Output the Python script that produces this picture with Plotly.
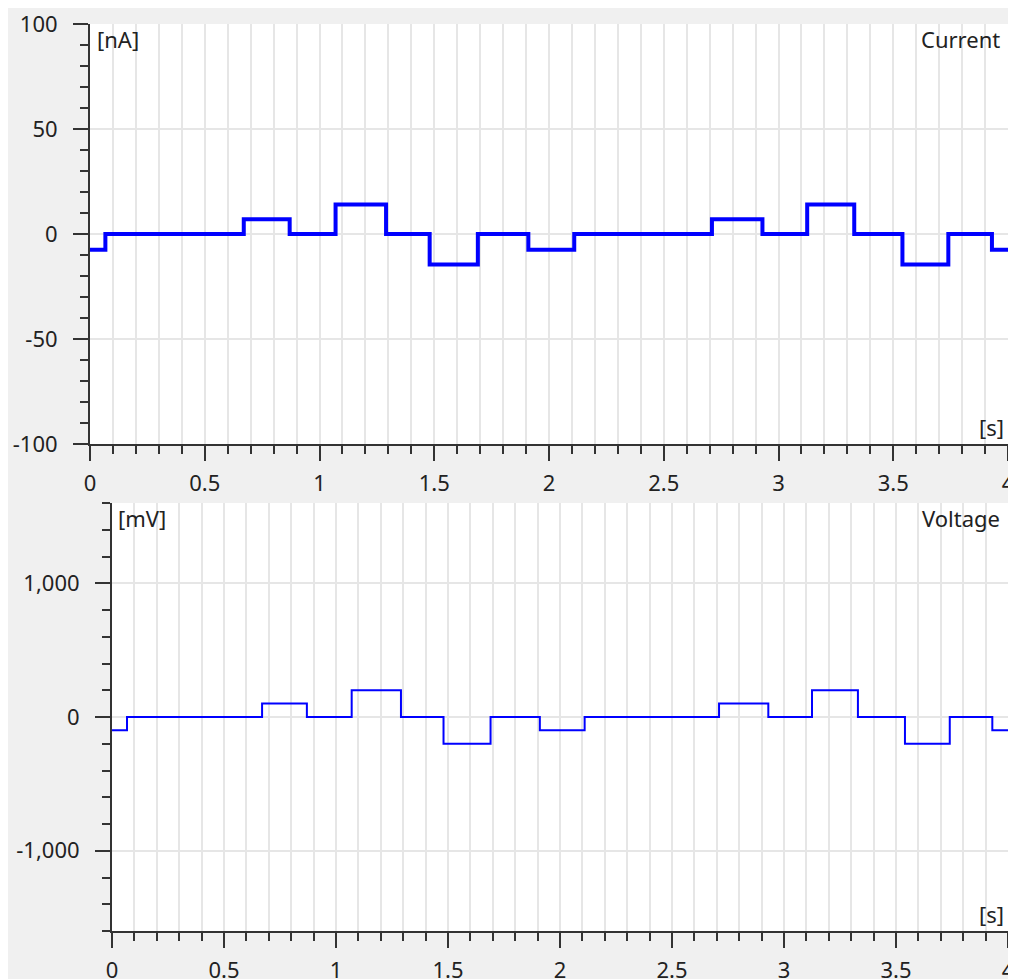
import plotly.graph_objects as go

# Step edges (s) and levels per segment
step_times = [0.0, 0.067, 0.67, 0.87, 1.07, 1.29, 1.48, 1.69, 1.91, 2.11,
              2.71, 2.93, 3.125, 3.33, 3.54, 3.74, 3.93, 4.0]
voltage_mV = [-100, 0, 100, 0, 200, 0, -200, 0, -100, 0, 100, 0, 200, 0, -200, 0, -100, -100]
current_nA = [-7.5, 0, 7, 0, 14, 0, -14.5, 0, -7.5, 0, 7, 0, 14, 0, -14.5, 0, -7.5, -7.5]

x_ticks = [0, 0.5, 1, 1.5, 2, 2.5, 3, 3.5, 4]
x_ticktext = ["0", "0.5", "1", "1.5", "2", "2.5", "3", "3.5", "4"]
yI_ticks = [-100, -50, 0, 50, 100]
yI_ticktext = ["-100", "-50", "0", "50", "100"]
yV_ticks = [-1000, 0, 1000]
yV_ticktext = ["-1,000", "0", "1,000"]

# page is offset by the 8px body margin
W, H = 1008, 971
OFF = 8
FONT = "Noto Sans"
FS = 22
TXT = "#222222"
AX = "#333333"
GRID = "#e6e6e6"

fig = go.Figure()
fig.add_trace(go.Scatter(x=step_times, y=current_nA, mode="lines", line_shape="hv",
                         line=dict(color="#0000ff", width=4), xaxis="x", yaxis="y",
                         showlegend=False))
fig.add_trace(go.Scatter(x=step_times, y=voltage_mV, mode="lines", line_shape="hv",
                         line=dict(color="#0000ff", width=2), xaxis="x2", yaxis="y2",
                         showlegend=False))

def xax(domain, anchor):
    return dict(domain=domain, anchor=anchor, range=[0, 4], tickmode="array",
                tickvals=x_ticks, ticktext=x_ticktext, showline=True, linecolor=AX,
                linewidth=2, ticks="outside", ticklen=15, tickwidth=2, tickcolor=AX,
                showgrid=True, gridcolor=GRID, gridwidth=1.5, zeroline=False,
                ticklabelstandoff=4, automargin=False, ticklabeloverflow="allow",
                tickfont=dict(family=FONT, size=FS, color=TXT),
                minor=dict(tickmode="linear", tick0=0, dtick=0.1, ticks="outside",
                           ticklen=8, tickwidth=2, tickcolor=AX, showgrid=True,
                           gridcolor=GRID, gridwidth=1.5))

def yax(domain, anchor, rng, tv, tt, mdt):
    return dict(domain=domain, anchor=anchor, range=rng, tickmode="array",
                tickvals=tv, ticktext=tt, showline=True, linecolor=AX, linewidth=2,
                ticks="outside", ticklen=15, tickwidth=2, tickcolor=AX,
                showgrid=True, gridcolor=GRID, gridwidth=1.5, zeroline=False,
                ticklabelstandoff=11, automargin=False, ticklabeloverflow="allow",
                tickfont=dict(family=FONT, size=FS, color=TXT),
                minor=dict(tickmode="linear", tick0=0, dtick=mdt, ticks="outside",
                           ticklen=8, tickwidth=2, tickcolor=AX, showgrid=False))

def px_x(p):
    return (p - OFF) / W

def px_y(p):
    return 1 - (p - OFF) / H

top_dom = [px_y(444), px_y(24)]
bot_dom = [px_y(931), px_y(503)]

fig.update_layout(
    template="none",
    width=W, height=H, margin=dict(l=0, r=0, t=0, b=0, pad=0),
    paper_bgcolor="#f0f0f0", plot_bgcolor="#ffffff",
    font=dict(family=FONT, size=FS, color=TXT),
    xaxis=xax([px_x(90), px_x(1008)], "y"),
    yaxis=yax(top_dom, "x", [-100, 100], yI_ticks, yI_ticktext, 10),
    xaxis2=xax([px_x(112), px_x(1008)], "y2"),
    yaxis2=yax(bot_dom, "x2", [-1600, 1600], yV_ticks, yV_ticktext, 200),
    annotations=[
        dict(text="[nA]", xref="x domain", yref="y domain", x=0.005, y=1.0,
             xanchor="left", yanchor="top", showarrow=False, yshift=2),
        dict(text="Current", xref="x domain", yref="y domain", x=0.993, y=1.0,
             xanchor="right", yanchor="top", showarrow=False, yshift=2),
        dict(text="[s]", xref="x domain", yref="y domain", x=0.998, y=0.0,
             xanchor="right", yanchor="bottom", showarrow=False),
        dict(text="[mV]", xref="x2 domain", yref="y2 domain", x=0.005, y=1.0,
             xanchor="left", yanchor="top", showarrow=False, yshift=2),
        dict(text="Voltage", xref="x2 domain", yref="y2 domain", x=0.993, y=1.0,
             xanchor="right", yanchor="top", showarrow=False, yshift=2),
        dict(text="[s]", xref="x2 domain", yref="y2 domain", x=0.998, y=0.0,
             xanchor="right", yanchor="bottom", showarrow=False),
    ],
)

fig.write_html("out.html")
